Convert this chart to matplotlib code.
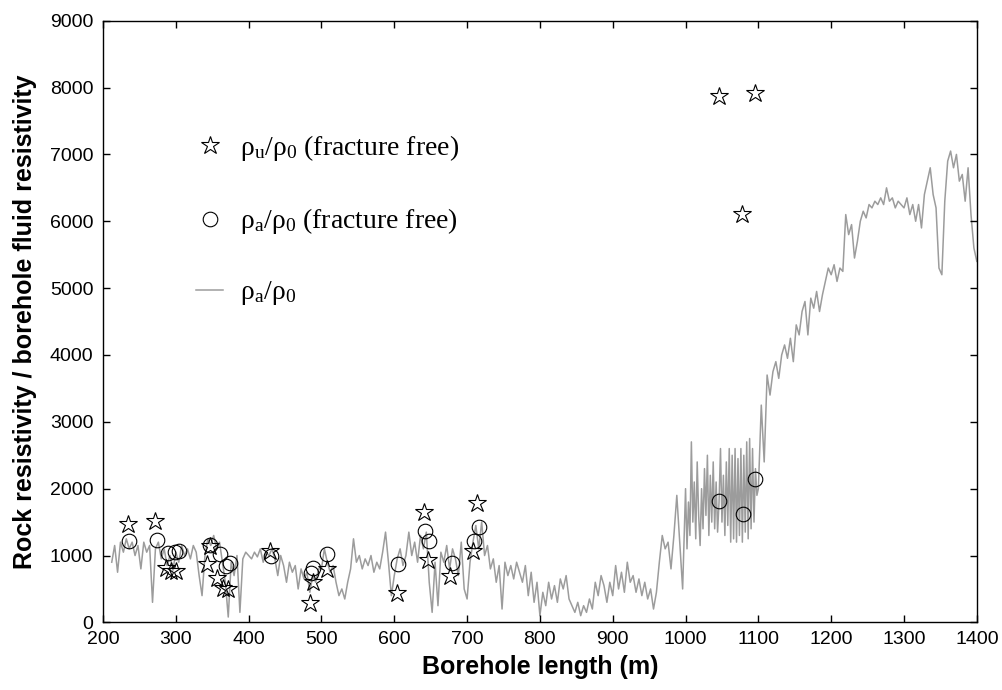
import numpy as np
import matplotlib
matplotlib.use("Agg")
import matplotlib.pyplot as plt
from matplotlib.lines import Line2D

plt.rcParams["font.family"] = ["Liberation Sans", "DejaVu Sans"]
plt.rcParams["mathtext.fontset"] = "custom"
plt.rcParams["mathtext.rm"] = "Liberation Serif"
plt.rcParams["mathtext.it"] = "Liberation Serif:italic"

# Continuous log: apparent resistivity ratio
# (4 m sampling, 2 m through the fractured 1000-1100 m zone)
log_depth = np.concatenate([np.arange(212, 1000, 4),
                            np.arange(1000, 1100, 2),
                            np.arange(1100, 1401, 4)])
log_ratio = [
    # 212-296
    900, 1150, 750, 1200, 1050, 1250, 1100, 1200, 1000, 1150, 800, 1200, 1050,
    1150, 300, 1100, 1200, 950, 1100, 850, 1000, 780,
    # 300-396
    1050, 900, 1150, 1000, 1100, 950, 1150, 1050, 700, 400, 1000, 1250, 1150,
    1300, 1100, 1200, 900, 600, 80, 900, 700, 1000, 150, 950, 1050,
    # 400-496
    1000, 950, 1050, 980, 1100, 900, 1050, 1000, 1100, 950, 700, 1000, 850,
    600, 900, 750, 850, 500, 800, 650, 750, 450, 700, 600, 800,
    # 500-596
    800, 1100, 900, 750, 850, 600, 400, 500, 350, 600, 800, 1250, 900,
    1000, 800, 950, 850, 1000, 750, 900, 800, 1050, 1350, 900, 400,
    # 600-696
    700, 950, 1100, 850, 1000, 1350, 1000, 1200, 900, 1300, 1100, 1350, 600,
    150, 900, 250, 1050, 900, 1150, 800, 1100, 950, 700, 1200, 500,
    # 700-796
    350, 900, 1200, 1450, 1100, 1500, 1000, 1150, 800, 950, 600, 850, 200,
    900, 700, 850, 650, 900, 750, 600, 850, 400, 750, 300, 600,
    # 800-896
    100, 450, 250, 600, 350, 550, 300, 650, 500, 700, 350, 250, 150,
    300, 100, 250, 150, 350, 200, 600, 400, 700, 550, 300, 600,
    # 900-996
    400, 850, 500, 750, 450, 900, 600, 700, 450, 650, 400, 600, 350,
    500, 200, 450, 900, 1300, 1100, 1200, 800, 1300, 1900, 1200, 500,
    # 1000-1098 (2 m)
    2000, 1100, 1800, 1300, 2700, 1500, 2100, 1250, 2400, 1600,
    1150, 2000, 1400, 2300, 1600, 2500, 1300, 2200, 1500, 2400,
    1400, 2100, 1350, 1800, 2600, 1500, 2200, 1300, 2400, 1450,
    2600, 1200, 2500, 1250, 2600, 1200, 2450, 1300, 2600, 1200,
    2500, 1350, 2700, 1250, 2750, 1400, 2600, 1500, 2300, 1900,
    # 1100-1196
    2000, 3250, 2400, 3700, 3400, 3750, 3900, 3650, 4000, 4150, 3950, 4250, 3900,
    4450, 4300, 4650, 4800, 4300, 4850, 4700, 4950, 4650, 4900, 5100, 5300,
    # 1200-1296
    5200, 5350, 5100, 5300, 5250, 6100, 5800, 5950, 5450, 5700, 6000, 6150, 6050,
    6250, 6200, 6300, 6250, 6350, 6250, 6500, 6300, 6350, 6200, 6300, 6250,
    # 1300-1400
    6200, 6350, 6100, 6250, 6000, 6250, 5900, 6400, 6600, 6800, 6400, 6200, 5300,
    5200, 6300, 6900, 7050, 6800, 7000, 6600, 6700, 6300, 6800, 6100, 5600, 5400,
]

# Fracture-free intervals: undisturbed ratio (stars)
star_depth = [234, 272, 287, 294, 300, 343, 347, 356, 365, 372, 430,
              484, 489, 507, 604, 641, 646, 677, 708, 714, 1046, 1078, 1096]
star_ratio = [1478, 1512, 816, 766, 766, 866, 1139, 667, 518, 493, 1064,
              284, 602, 791, 433, 1647, 930, 701, 1064, 1786, 7870, 6110, 7920]

# Fracture-free intervals: apparent ratio (circles)
circ_depth = [236, 274, 289, 299, 305, 347, 361, 369, 375, 431, 486, 489,
              507, 605, 642, 647, 679, 709, 716, 1046, 1079, 1096]
circ_ratio = [1213, 1229, 1040, 1050, 1064, 1164, 1030, 840, 891, 990, 741, 816,
              1030, 880, 1363, 1224, 891, 1213, 1428, 1810, 1615, 2150]

LINE_GREY = "#9c9c9c"

fig = plt.figure(figsize=(10.03, 6.90), dpi=100)
ax = fig.add_axes([0.1027, 0.098, 0.8712, 0.872])

ax.plot(log_depth, log_ratio, color=LINE_GREY, lw=1.1, zorder=1)
ax.plot(star_depth, star_ratio, ls="none", marker="*", ms=13.5, mfc="none",
        mec="black", mew=0.8, zorder=3)
ax.plot(circ_depth, circ_ratio, ls="none", marker="o", ms=10.5, mfc="none",
        mec="black", mew=0.8, zorder=3)

ax.set_xlim(200, 1400)
ax.set_ylim(0, 9000)
ax.set_xticks(np.arange(200, 1401, 100))
ax.set_yticks(np.arange(0, 9001, 1000))
ax.tick_params(direction="in", length=5, width=1, top=True, right=True,
               labelsize=14)
ax.tick_params(axis="x", pad=6)
ax.tick_params(axis="y", pad=7)
for s in ax.spines.values():
    s.set_linewidth(1.0)

ax.set_xlabel("Borehole length (m)", fontsize=18, fontweight="bold", labelpad=5)
ax.set_ylabel("Rock resistivity / borehole fluid resistivity", fontsize=18,
              fontweight="bold", labelpad=9)

handles = [
    Line2D([], [], ls="none", marker="*", ms=13.5, mfc="none", mec="black", mew=0.8),
    Line2D([], [], ls="none", marker="o", ms=10.5, mfc="none", mec="black", mew=0.8),
    Line2D([], [], color=LINE_GREY, lw=1.1),
]
labels = [
    "ρ$_\\mathrm{u}$/ρ$_\\mathrm{0}$ (fracture free)",
    "ρ$_\\mathrm{a}$/ρ$_\\mathrm{0}$ (fracture free)",
    "ρ$_\\mathrm{a}$/ρ$_\\mathrm{0}$",
]
ax.legend(handles, labels, loc="upper left", bbox_to_anchor=(0.106, 0.813),
          frameon=False, prop={"family": "Liberation Serif", "size": 20},
          labelspacing=1.55, handlelength=1.0, handletextpad=0.6,
          borderpad=0, borderaxespad=0)

fig.savefig("out.png", dpi=100)
